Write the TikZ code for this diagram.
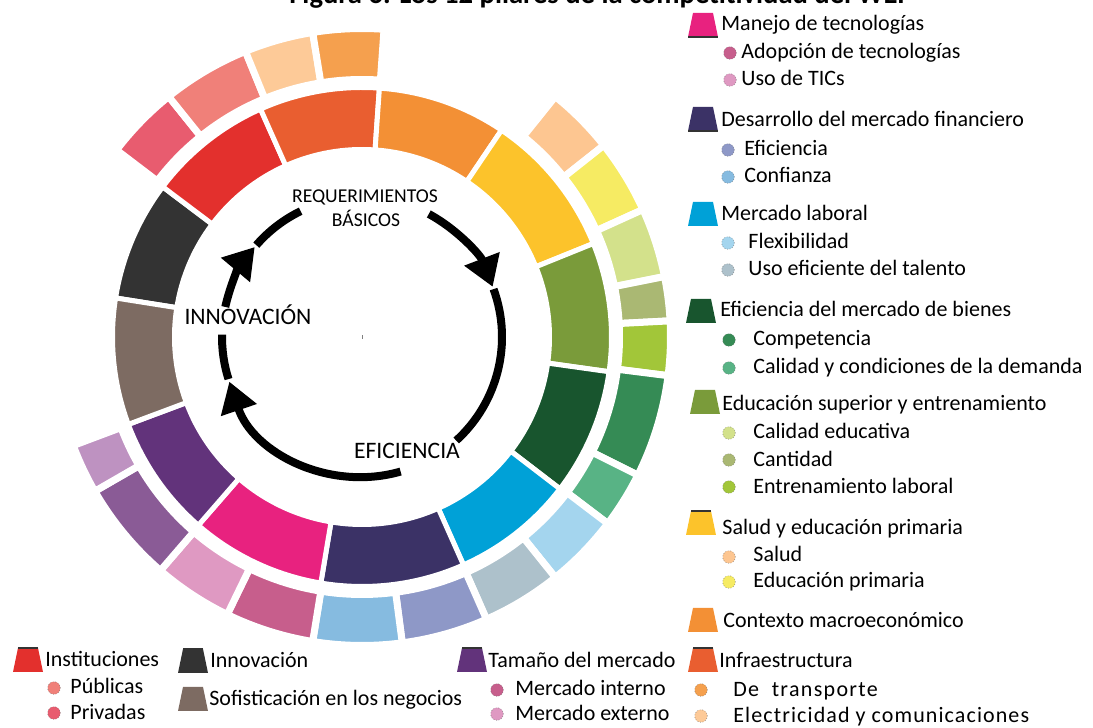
\documentclass[tikz,border=0pt]{standalone}
\usepackage{fontspec}
\setmainfont{Carlito}
\usetikzlibrary{arrows.meta}

% pillar colours (inner ring)
\definecolor{cInnov}{HTML}{333333}
\definecolor{cInst}{HTML}{E3302D}
\definecolor{cInfra}{HTML}{E95E30}
\definecolor{cMacro}{HTML}{F39035}
\definecolor{cSalud}{HTML}{FCC32B}
\definecolor{cSuperior}{HTML}{7A9B3A}
\definecolor{cBienes}{HTML}{18552E}
\definecolor{cLaboral}{HTML}{00A1D7}
\definecolor{cFinanc}{HTML}{3B3266}
\definecolor{cManejo}{HTML}{E8227F}
\definecolor{cTamano}{HTML}{62337B}
\definecolor{cSofis}{HTML}{7D6B62}
% sub-pillar colours (outer ring)
\definecolor{cPrivadas}{HTML}{E85C6F}
\definecolor{cPublicas}{HTML}{F08079}
\definecolor{cElectr}{HTML}{FDCA98}
\definecolor{cTransp}{HTML}{F5A04E}
\definecolor{cSaludB}{HTML}{FDC691}
\definecolor{cPrimaria}{HTML}{F6EB63}
\definecolor{cCalEdu}{HTML}{D3E18B}
\definecolor{cCantidad}{HTML}{AAB873}
\definecolor{cEntren}{HTML}{A2C639}
\definecolor{cCompet}{HTML}{358B55}
\definecolor{cDemanda}{HTML}{58B385}
\definecolor{cFlex}{HTML}{A4D5EE}
\definecolor{cTalento}{HTML}{ADC1CB}
\definecolor{cEfic}{HTML}{8E98C7}
\definecolor{cConf}{HTML}{86BBE0}
\definecolor{cAdopc}{HTML}{C75E8C}
\definecolor{cTics}{HTML}{DF99C2}
\definecolor{cInterno}{HTML}{8A5B96}
\definecolor{cExterno}{HTML}{BE92C1}

% annular sector: style, start angle, end angle, inner radius, outer radius
\newcommand{\ringseg}[5]{%
  \filldraw[#1] (#2:#5) arc[start angle=#2, end angle=#3, radius=#5]
    -- (#3:#4) arc[start angle=#3, end angle=#2, radius=#4] -- cycle;}
% legend icon: name, position, colour
\newcommand{\legicon}[3]{%
  \coordinate (#1) at (#2);
  \fill[#3, shift={(#1)}] (-15,-12) -- (15,-12) -- (10,12) -- (-10,12) -- cycle;}

\begin{document}
\begin{tikzpicture}[x=0.5pt,y=0.5pt,>=Stealth]
\tikzset{
  pilar/.style={draw=white, line width=2.5pt},
  subpilar/.style={draw=white, line width=3.5pt},
  cyclearrow/.style={line width=4pt,-{Triangle[length=15pt,width=18pt]}},
  cycleline/.style={line width=4pt},
  cyclelabel/.style={inner sep=0pt, text height=1.6ex, text depth=0.4ex},
  legtext/.style={anchor=west, inner sep=0pt, text height=1.6ex, text depth=0.4ex,
    font=\fontsize{11}{13}\selectfont},
  legdot/.style={circle, minimum size=6.3pt, inner sep=0pt,
    draw=black!55, line width=0.3pt, densely dotted},
  iconrim/.style={line width=0.8pt, black!80},
}
\useasboundingbox (0,0) rectangle (1093,728);

% ---------- title, cut by the page top ----------
\node[anchor=base, inner sep=0pt, font=\bfseries\fontsize{14.3}{16}\selectfont] (title)
  at (600,724) {Figura 6. Los 12 pilares de la competitividad del WEF};

\begin{scope}[shift={(362,391)}]
  % ---------- inner ring: the 12 pillars ----------
  \ringseg{pilar,fill=cInnov}{171}{143}{187.5}{249.5}
  \ringseg{pilar,fill=cInst}{143}{114}{187.5}{249.5}
  \ringseg{pilar,fill=cInfra}{114}{86}{187.5}{249.5}
  \ringseg{pilar,fill=cMacro}{86}{56}{187.5}{249.5}
  \ringseg{pilar,fill=cSalud}{56}{22}{187.5}{249.5}
  \ringseg{pilar,fill=cSuperior}{22}{-8}{187.5}{249.5}
  \ringseg{pilar,fill=cBienes}{-8}{-37.5}{187.5}{249.5}
  \ringseg{pilar,fill=cLaboral}{-37.5}{-66}{187.5}{249.5}
  \ringseg{pilar,fill=cFinanc}{-66}{-99.5}{187.5}{249.5}
  \ringseg{pilar,fill=cManejo}{-99.5}{-131}{187.5}{249.5}
  \ringseg{pilar,fill=cTamano}{-131}{-159.5}{187.5}{249.5}
  \ringseg{pilar,fill=cSofis}{-159.5}{-189}{187.5}{249.5}
  % ---------- outer ring: sub-pillars ----------
  \ringseg{subpilar,fill=cPrivadas}{142.7}{128.8}{257.5}{308.5}
  \ringseg{subpilar,fill=cPublicas}{128.8}{112.2}{257.5}{308.5}
  \ringseg{subpilar,fill=cElectr}{112.2}{99.2}{257.5}{308.5}
  \ringseg{subpilar,fill=cTransp}{99.2}{85.9}{257.5}{308.5}
  \ringseg{subpilar,fill=cSaludB}{51.2}{38.4}{257.5}{308.5}
  \ringseg{subpilar,fill=cPrimaria}{38.4}{24.4}{257.5}{308.5}
  \ringseg{subpilar,fill=cCalEdu}{24.4}{11.3}{257.5}{308.5}
  \ringseg{subpilar,fill=cCantidad}{11.3}{3}{257.5}{308.5}
  \ringseg{subpilar,fill=cEntren}{3}{-7.2}{257.5}{308.5}
  \ringseg{subpilar,fill=cCompet}{-7.2}{-26.6}{257.5}{308.5}
  \ringseg{subpilar,fill=cDemanda}{-26.6}{-37.2}{257.5}{308.5}
  \ringseg{subpilar,fill=cFlex}{-37.2}{-51.2}{257.5}{308.5}
  \ringseg{subpilar,fill=cTalento}{-51.2}{-66.2}{257.5}{308.5}
  \ringseg{subpilar,fill=cEfic}{-66.2}{-82.5}{257.5}{308.5}
  \ringseg{subpilar,fill=cConf}{-82.5}{-99.2}{257.5}{308.5}
  \ringseg{subpilar,fill=cAdopc}{-99.2}{-115.9}{257.5}{308.5}
  \ringseg{subpilar,fill=cTics}{-115.9}{-130.8}{257.5}{308.5}
  \ringseg{subpilar,fill=cInterno}{-130.8}{-150}{257.5}{308.5}
  \ringseg{subpilar,fill=cExterno}{-150}{-159.4}{257.5}{308.5}
  % ---------- cycle of the three stages ----------
  \draw[cyclearrow] (61.5:140) arc[start angle=61.5, end angle=21, radius=140];
  \draw[cycleline] (20:140) arc[start angle=20, end angle=-47.7, radius=140];
  \draw[cyclearrow] (-74:140) arc[start angle=-74, end angle=-161.4, radius=140];
  \draw[cycleline] (-162.5:140) arc[start angle=-162.5, end angle=-181, radius=140];
  \draw[cyclearrow] (167.6:140) arc[start angle=167.6, end angle=140, radius=140];
  \draw[cycleline] (139:140) arc[start angle=139, end angle=116, radius=140];
  \draw[gray, line width=0.5pt] (0,-2) -- (0,2);   % centre mark
\end{scope}
\node[cyclelabel, font=\fontsize{9.8}{11}\selectfont] (req) at (365,531) {REQUERIMIENTOS};
\node[cyclelabel, font=\fontsize{9.8}{11}\selectfont] (bas) at (366,507) {BÁSICOS};
\node[cyclelabel, font=\fontsize{11.8}{13}\selectfont] (innov) at (248,409) {INNOVACIÓN};
\node[cyclelabel, font=\fontsize{11.8}{13}\selectfont] (efic) at (407,275) {EFICIENCIA};

% ---------- legend, right column ----------
\legicon{i-manejo}{703,703}{cManejo}
\node[legtext] (t-manejo) at (721,703) {Manejo de tecnologías};
\node[legdot, fill=cAdopc] (d-adopc) at (730,675) {};
\node[legtext] (t-adopc) at (741,675) {Adopción de tecnologías};
\node[legdot, fill=cTics] (d-tics) at (730,648) {};
\node[legtext] (t-tics) at (741,648) {Uso de TICs};

\legicon{i-financ}{703,609}{cFinanc}
\node[legtext] (t-financ) at (721,607) {Desarrollo del mercado financiero};
\node[legdot, fill=cEfic] (d-efic) at (728,578) {};
\node[legtext] (t-efic) at (744,578) {Eficiencia};
\node[legdot, fill=cConf] (d-conf) at (728,551) {};
\node[legtext] (t-conf) at (744,551) {Confianza};

\legicon{i-laboral}{703,514}{cLaboral}
\node[legtext] (t-laboral) at (721,513) {Mercado laboral};
\node[legdot, fill=cFlex] (d-flex) at (728,485) {};
\node[legtext] (t-flex) at (748,485) {Flexibilidad};
\node[legdot, fill=cTalento] (d-talento) at (728,458) {};
\node[legtext] (t-talento) at (748,458) {Uso eficiente del talento};

\legicon{i-bienes}{701,417}{cBienes}
\node[legtext] (t-bienes) at (720,417) {Eficiencia del mercado de bienes};
\node[legdot, fill=cCompet] (d-compet) at (729,388) {};
\node[legtext] (t-compet) at (753,388) {Competencia};
\node[legdot, fill=cDemanda] (d-demanda) at (729,360) {};
\node[legtext] (t-demanda) at (753,360) {Calidad y condiciones de la demanda};

\legicon{i-superior}{705,326}{cSuperior}
\node[legtext] (t-superior) at (722,323) {Educación superior y entrenamiento};
\node[legdot, fill=cCalEdu] (d-caledu) at (729,295) {};
\node[legtext] (t-caledu) at (753,295) {Calidad educativa};
\node[legdot, fill=cCantidad] (d-cantidad) at (729,268) {};
\node[legtext] (t-cantidad) at (753,267) {Cantidad};
\node[legdot, fill=cEntren] (d-entren) at (729,241) {};
\node[legtext] (t-entren) at (753,240) {Entrenamiento laboral};

\legicon{i-salud}{701,205}{cSalud}
\node[legtext] (t-salud) at (722,199) {Salud y educación primaria};
\node[legdot, fill=cSaludB] (d-salud) at (729,171) {};
\node[legtext] (t-saludb) at (753,172) {Salud};
\node[legdot, fill=cPrimaria] (d-primaria) at (729,146) {};
\node[legtext] (t-primaria) at (753,146) {Educación primaria};

\legicon{i-macro}{703,108}{cMacro}
\node[legtext] (t-macro) at (723,106) {Contexto macroeconómico};

% ---------- legend, bottom row ----------
\legicon{i-inst}{28,68}{cInst}
\node[legtext] (t-inst) at (45,67) {Instituciones};
\node[legdot, fill=cPublicas] (d-publicas) at (54,40) {};
\node[legtext] (t-publicas) at (70,40) {Públicas};
\node[legdot, fill=cPrivadas] (d-privadas) at (54,15) {};
\node[legtext] (t-privadas) at (70,14) {Privadas};

\legicon{i-innov}{193,67}{cInnov}
\node[legtext] (t-innov) at (210,66) {Innovación};
\legicon{i-sofis}{193,29}{cSofis}
\node[legtext] (t-sofis) at (209,28) {Sofisticación en los negocios};

\legicon{i-tamano}{472,68}{cTamano}
\node[legtext] (t-tamano) at (488,66) {Tamaño del mercado};
\node[legdot, fill=cAdopc] (d-interno) at (497,38) {};
\node[legtext] (t-interno) at (515,38) {Mercado interno};
\node[legdot, fill=cTics] (d-externo) at (497,14) {};
\node[legtext] (t-externo) at (515,13) {Mercado externo};

\legicon{i-infra}{703,68}{cInfra}
\node[legtext] (t-infra) at (719,66) {Infraestructura};
\node[legdot, fill=cTransp] (d-transp) at (701,38) {};
\node[legtext] (t-transp) at (733,37) {\addfontfeatures{LetterSpace=6}De\ \ transporte};
\node[legdot, fill=cElectr] (d-electr) at (701,12) {};
\node[legtext] (t-electr) at (733,11) {\addfontfeatures{LetterSpace=5}Electricidad y comunicaciones};

% dark rims on some of the icons
\foreach \n in {i-inst,i-innov,i-tamano,i-infra,i-salud}
  \draw[iconrim] ([shift={(-10,12)}]\n) -- ([shift={(10,12)}]\n);
\foreach \n in {i-manejo,i-financ}
  \draw[iconrim] ([shift={(-15,-12)}]\n) -- ([shift={(15,-12)}]\n);
\end{tikzpicture}
\end{document}
